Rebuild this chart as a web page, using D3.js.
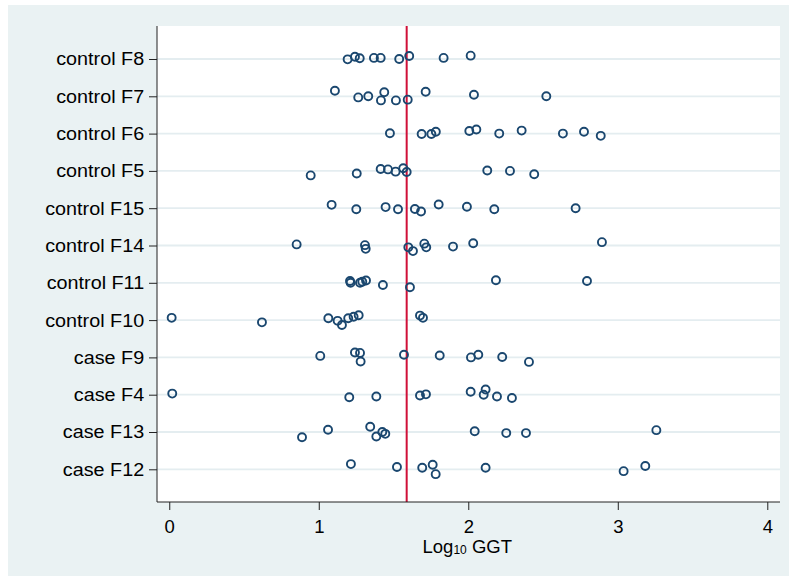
<!DOCTYPE html>
<html>
<head>
<meta charset="utf-8">
<script src="https://cdn.jsdelivr.net/npm/d3@7"></script>
<style>
  body { margin: 0; background: #ffffff; }
  text { font-family: "Liberation Sans", Arial, Helvetica, sans-serif; fill: #000; }
</style>
</head>
<body>
<svg id="chart" width="789" height="576"></svg>
<script>
// Groups, top to bottom
const categories = [
  "control F8", "control F7", "control F6", "control F5", "control F15", "control F14",
  "control F11", "control F10", "case F9", "case F4", "case F13", "case F12"
];

// Log10 GGT per subject, one array per group
const ctrlF8  = [1.193, 1.242, 1.274, 1.369, 1.414, 1.538, 1.605, 1.835, 2.016];
const ctrlF7  = [1.108, 1.264, 1.331, 1.416, 1.438, 1.516, 1.595, 1.715, 2.038, 2.522];
const ctrlF6  = [1.476, 1.688, 1.753, 1.783, 2.007, 2.054, 2.207, 2.357, 2.633, 2.774, 2.886];
const ctrlF5  = [0.946, 1.254, 1.414, 1.463, 1.514, 1.565, 1.588, 2.127, 2.279, 2.441];
const ctrlF15 = [1.086, 1.251, 1.447, 1.530, 1.643, 1.684, 1.802, 1.991, 2.174, 2.718];
const ctrlF14 = [0.852, 1.309, 1.314, 1.599, 1.630, 1.706, 1.719, 1.898, 2.033, 2.894];
const ctrlF11 = [1.209, 1.213, 1.276, 1.291, 1.316, 1.429, 1.610, 2.185, 2.794];
const ctrlF10 = [0.016, 0.620, 1.064, 1.126, 1.155, 1.197, 1.233, 1.267, 1.677, 1.697];
const caseF9  = [1.010, 1.242, 1.276, 1.280, 1.570, 1.809, 2.018, 2.067, 2.227, 2.406];
const caseF4  = [0.020, 1.204, 1.385, 1.677, 1.717, 2.016, 2.103, 2.116, 2.192, 2.292];
const caseF13 = [0.888, 1.062, 1.344, 1.385, 1.425, 1.445, 2.043, 2.254, 2.386, 3.258];
const caseF12 = [1.215, 1.523, 1.692, 1.762, 1.782, 2.116, 3.039, 3.184];

// Vertical jitter of each marker, in fractions of one row
const jitF8  = [0.01, -0.06, -0.02, -0.03, -0.03, 0, -0.08, -0.03, -0.09];
const jitF7  = [-0.15, 0.03, 0, 0.11, -0.11, 0.11, 0.09, -0.12, -0.04, 0];
const jitF6  = [-0.01, 0.01, 0.01, -0.05, -0.07, -0.11, 0, -0.08, 0, -0.05, 0.06];
const jitF5  = [0.12, 0.07, -0.05, -0.04, 0.02, -0.07, 0.03, -0.01, 0, 0.09];
const jitF15 = [-0.09, 0.03, -0.03, 0.03, 0.02, 0.09, -0.10, -0.04, 0.03, 0];
const jitF14 = [-0.03, -0.01, 0.09, 0.05, 0.15, -0.05, 0.05, 0.03, -0.06, -0.09];
const jitF11 = [-0.05, 0, 0, -0.03, -0.06, 0.06, 0.12, -0.07, -0.05];
const jitF10 = [-0.06, 0.06, -0.05, 0.02, 0.13, -0.05, -0.09, -0.13, -0.12, -0.06];
const jitF9  = [-0.04, -0.13, -0.12, 0.11, -0.07, -0.05, 0, -0.07, -0.01, 0.12];
const jitF4  = [-0.03, 0.07, 0.05, 0.02, -0.01, -0.08, 0, -0.14, 0.05, 0.09];
const jitF13 = [0.14, -0.06, -0.14, 0.12, 0, 0.05, -0.02, 0.03, 0.03, -0.05];
const jitF12 = [-0.14, -0.06, -0.04, -0.12, 0.13, -0.04, 0.05, -0.09];

const groupValues = [ctrlF8, ctrlF7, ctrlF6, ctrlF5, ctrlF15, ctrlF14, ctrlF11, ctrlF10, caseF9, caseF4, caseF13, caseF12];
const groupJitter = [jitF8, jitF7, jitF6, jitF5, jitF15, jitF14, jitF11, jitF10, jitF9, jitF4, jitF13, jitF12];

// Reference line position and x ticks
const referenceValue = 1.588;
const xTicks = [0, 1, 2, 3, 4];

const points = [];
categories.forEach((c, i) => {
  groupValues[i].forEach((v, j) => points.push({ group: c, value: v, jitter: groupJitter[i][j] }));
});

const svg = d3.select("#chart");
const plot = { left: 157, right: 780, top: 26, bottom: 502 };

// Outer graph region and white plot region
svg.append("rect").attr("x", 8).attr("y", 5).attr("width", 781).attr("height", 571).attr("fill", "#eaf2f3");
svg.append("rect").attr("x", plot.left).attr("y", plot.top)
  .attr("width", plot.right - plot.left).attr("height", plot.bottom - plot.top).attr("fill", "#ffffff");

const x = d3.scaleLinear().domain([-0.082, 4.085]).range([plot.left, plot.right]);
const y = d3.scalePoint().domain(categories).range([59, 469.3]);
const step = y.step();

// Horizontal grid lines
svg.append("g").selectAll("line").data(categories).join("line")
  .attr("x1", plot.left).attr("x2", plot.right)
  .attr("y1", d => y(d)).attr("y2", d => y(d))
  .attr("stroke", "#e4edf0").attr("stroke-width", 1.8);

// Reference line
svg.append("line")
  .attr("x1", x(referenceValue)).attr("x2", x(referenceValue))
  .attr("y1", plot.top).attr("y2", plot.bottom)
  .attr("stroke", "#d01038").attr("stroke-width", 2);

// Markers
svg.append("g").selectAll("circle").data(points).join("circle")
  .attr("cx", d => x(d.value))
  .attr("cy", d => y(d.group) + d.jitter * step)
  .attr("r", 4)
  .attr("fill", "none")
  .attr("stroke", "#1a476f")
  .attr("stroke-width", 1.9);

// Axes
const yAxis = svg.append("g").attr("transform", `translate(${plot.left},0)`)
  .call(d3.axisLeft(y).tickSize(8).tickPadding(4).tickSizeOuter(0));
yAxis.select(".domain").remove();
yAxis.selectAll(".tick line").attr("stroke", "#222");
yAxis.selectAll(".tick text")
  .style("font-size", "18.5px")
  .attr("transform", "scale(1.07,1)");

const xAxis = svg.append("g").attr("transform", `translate(0,${plot.bottom})`)
  .call(d3.axisBottom(x).tickValues(xTicks).tickFormat(d3.format("d")).tickSize(8).tickPadding(10).tickSizeOuter(0));
xAxis.select(".domain").remove();
xAxis.selectAll(".tick line").attr("stroke", "#222");
xAxis.selectAll(".tick text").style("font-size", "18.5px");

svg.append("line").attr("x1", plot.left).attr("x2", plot.left)
  .attr("y1", plot.top).attr("y2", plot.bottom).attr("stroke", "#222").attr("stroke-width", 1);
svg.append("line").attr("x1", plot.left).attr("x2", plot.right)
  .attr("y1", plot.bottom).attr("y2", plot.bottom).attr("stroke", "#222").attr("stroke-width", 1);

// Axis title with subscript
const title = svg.append("text")
  .attr("x", x(2) - 1).attr("y", 552.5)
  .attr("text-anchor", "middle")
  .style("font-size", "18.5px");
title.append("tspan").text("Log");
title.append("tspan").attr("dy", 1).style("font-size", "12px").text("10");
title.append("tspan").attr("dy", -1).text(" GGT");
</script>
</body>
</html>
